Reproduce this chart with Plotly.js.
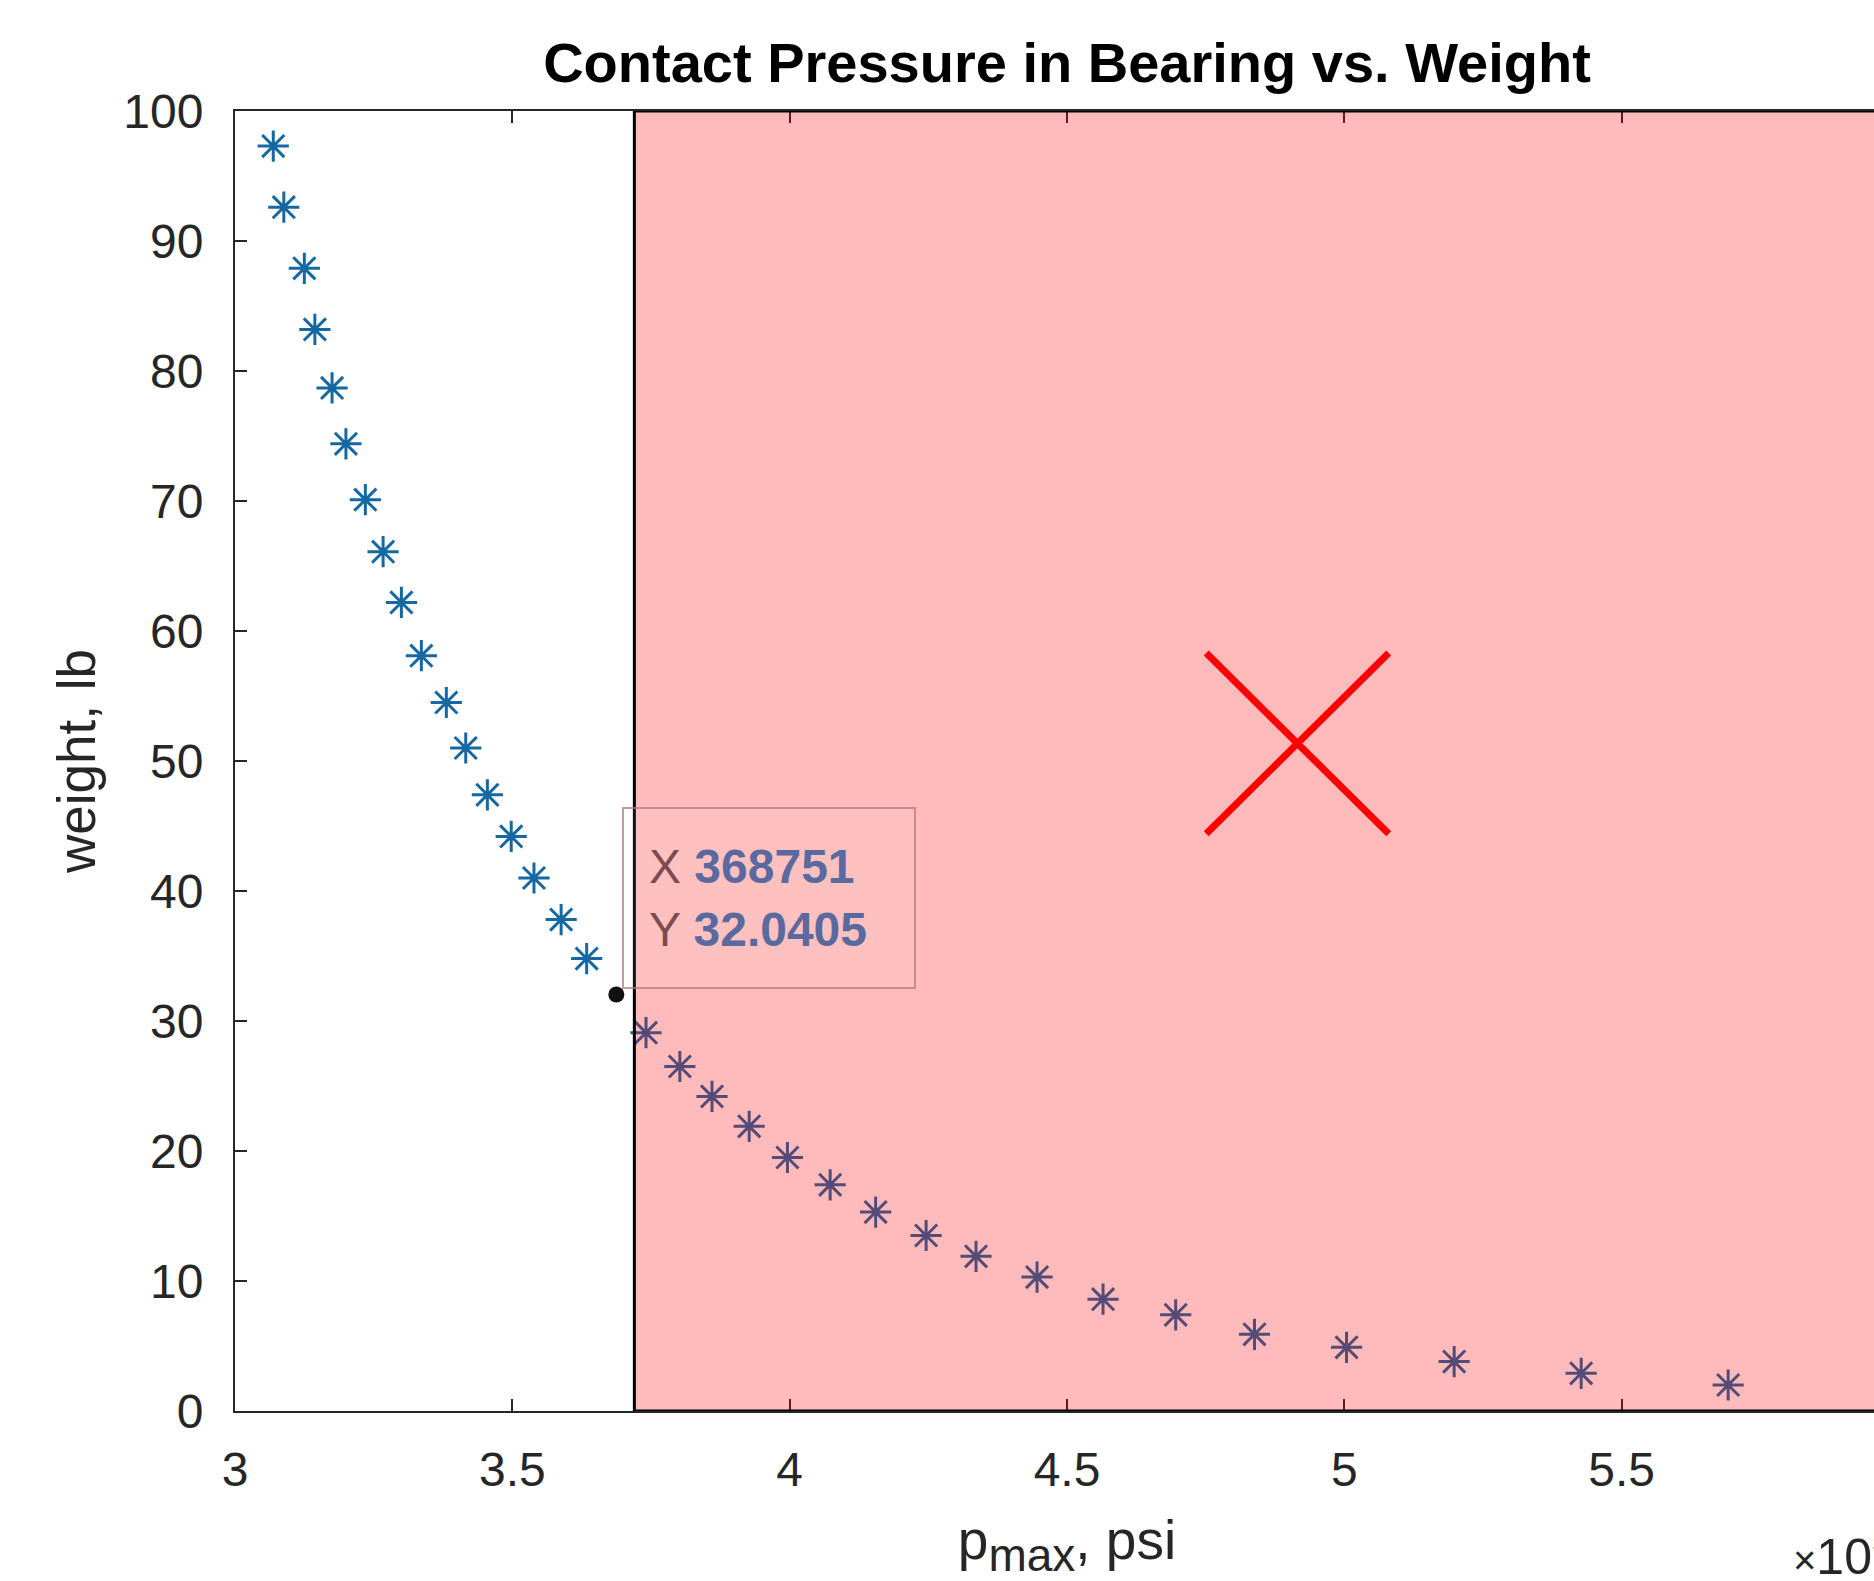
<!DOCTYPE html>
<html>
<head>
<meta charset="utf-8">
<script src="https://cdn.plot.ly/plotly-3.0.1.min.js"></script>
<style>
  html, body { margin: 0; padding: 0; overflow: hidden; background: #fff; }
  #chart { width: 1910px; height: 1581px; }
</style>
</head>
<body>
<div id="chart"></div>
<script>
// ---- data (p_max in psi, weight in lb) ----
const pmax = [306900, 308800, 312500, 314400, 317500, 320000, 323500, 326700, 330000, 333600,
              338100, 341600, 345500, 349800, 353900, 358800, 363400, 368751, 374100, 380200,
              386000, 392700, 399600, 407300, 415500, 424600, 433600, 444600, 456500, 469600,
              483800, 500400, 519800, 542700, 569200];
const weight = [97.3, 92.6, 87.9, 83.2, 78.7, 74.4, 70.1, 66.1, 62.2, 58.1,
                54.5, 51.0, 47.4, 44.2, 41.0, 37.8, 34.8, 32.0405, 29.1, 26.5,
                24.2, 21.9, 19.5, 17.4, 15.3, 13.5, 11.9, 10.3, 8.6, 7.4,
                5.9, 4.9, 3.8, 2.9, 2.0];

// selected data tip point
const tipX = 368751;
const tipY = 32.0405;

// limit region (shaded) and axis
const limitX = 372000;
const xRange = [300000, 600000];
const yRange = [0, 100];
const xTickVals = [300000, 350000, 400000, 450000, 500000, 550000, 600000];
const xTickText = ['3', '3.5', '4', '4.5', '5', '5.5', '6'];
const yTickVals = [0, 10, 20, 30, 40, 50, 60, 70, 80, 90, 100];

// red cross marker (decoration)
const crossX = [475100, 508000];
const crossY = [44.4, 58.3];

const blue = '#1668A3';
const markerColors = pmax.map(v => v === tipX ? 'rgba(0,0,0,0)' : blue);

const FONT = 'Liberation Sans, Arial, Helvetica, sans-serif';
const txt = '#262626';

const traces = [
  {
    x: pmax, y: weight, type: 'scatter', mode: 'markers',
    marker: { symbol: 'asterisk-open', size: 26, color: markerColors,
              line: { color: markerColors, width: 3 } },
    hoverinfo: 'x+y', showlegend: false
  },
  {
    x: [tipX], y: [tipY], type: 'scatter', mode: 'markers',
    marker: { symbol: 'circle', size: 16, color: '#111' },
    showlegend: false
  }
];

const layout = {
  width: 1910, height: 1581,
  margin: { l: 235, r: 11, t: 111, b: 170 },
  paper_bgcolor: '#ffffff', plot_bgcolor: '#ffffff',
  font: { family: FONT, color: txt },
  showlegend: false,
  title: {
    text: '<b>Contact Pressure in Bearing vs. Weight</b>',
    font: { family: FONT, size: 56, color: '#000' },
    x: 0.5, xref: 'paper', xanchor: 'center',
    y: 1 - 62 / 1581, yref: 'container', yanchor: 'middle'
  },
  xaxis: {
    range: xRange, tickvals: xTickVals, ticktext: xTickText,
    ticks: 'inside', ticklen: 12, tickwidth: 2, tickcolor: txt,
    showline: true, linewidth: 2, linecolor: txt, mirror: 'ticks',
    showgrid: false, zeroline: false,
    tickfont: { family: FONT, size: 48, color: txt },
    ticklabelstandoff: 15,
    title: { text: 'p<sub><span style="font-size:46px">max</span></sub>, psi',
             font: { family: FONT, size: 55, color: txt }, standoff: 44 }
  },
  yaxis: {
    range: yRange, tickvals: yTickVals,
    ticks: 'inside', ticklen: 12, tickwidth: 2, tickcolor: txt,
    showline: true, linewidth: 2, linecolor: txt, mirror: 'ticks',
    showgrid: false, zeroline: false,
    tickfont: { family: FONT, size: 48, color: txt },
    ticklabelstandoff: 20,
    title: { text: 'weight, lb', font: { family: FONT, size: 53, color: txt }, standoff: 11 }
  },
  shapes: [
    {
      type: 'rect', xref: 'x', yref: 'y', layer: 'above',
      x0: limitX, x1: xRange[1], y0: yRange[0], y1: yRange[1],
      fillcolor: 'rgba(255,0,0,0.265)', line: { color: '#000', width: 3 }
    },
    {
      type: 'line', xref: 'x', yref: 'y', layer: 'above',
      x0: crossX[0], y0: crossY[1], x1: crossX[1], y1: crossY[0],
      line: { color: '#ff0000', width: 7 }
    },
    {
      type: 'line', xref: 'x', yref: 'y', layer: 'above',
      x0: crossX[0], y0: crossY[0], x1: crossX[1], y1: crossY[1],
      line: { color: '#ff0000', width: 7 }
    }
  ],
  annotations: [
    {
      xref: 'x', yref: 'y', x: tipX, y: tipY,
      xanchor: 'left', yanchor: 'bottom', xshift: 6, yshift: 5,
      showarrow: false, align: 'left',
      width: 240, height: 128, borderpad: 25,
      bgcolor: 'rgba(255,255,255,0.08)', bordercolor: 'rgba(185,120,120,0.75)', borderwidth: 2,
      font: { family: FONT, size: 48 },
      text: '<span style="color:#7E4A50">X</span> <b style="color:#5B6A9E">' + tipX + '</b><br>' +
            '<span style="color:#7E4A50">Y</span> <b style="color:#5B6A9E">' + tipY + '</b>'
    },
    {
      xref: 'paper', yref: 'paper', x: 0.935, y: -0.1096,
      xanchor: 'left', yanchor: 'middle', showarrow: false,
      font: { family: FONT, size: 50, color: txt },
      text: '<span style="font-size:40px">×</span>10<sup>5</sup>'
    }
  ]
};

Plotly.newPlot('chart', traces, layout, { displayModeBar: false, staticPlot: true });
</script>
</body>
</html>
